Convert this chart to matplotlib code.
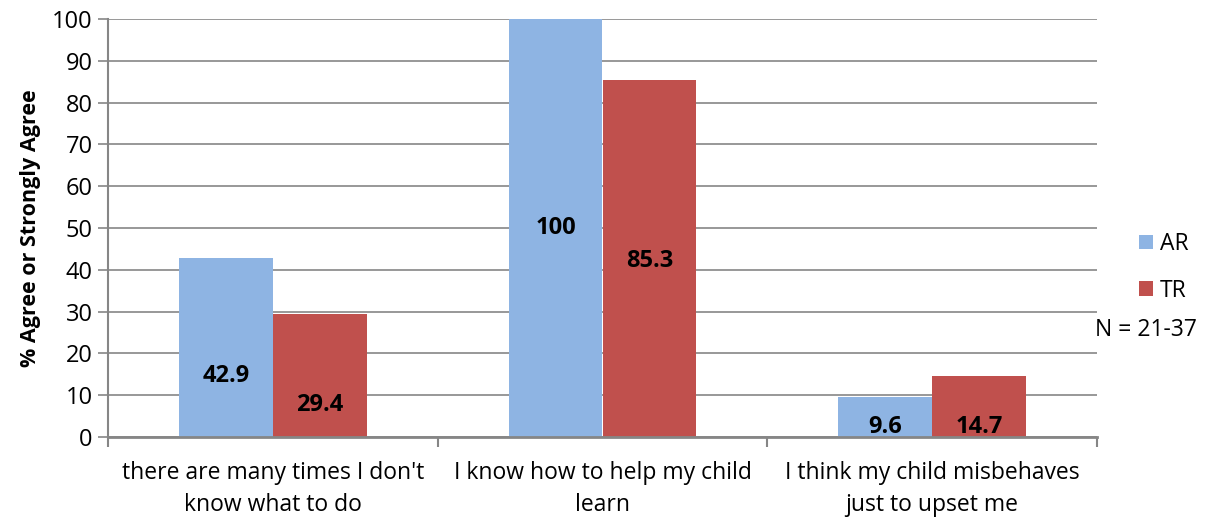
import numpy as np
import matplotlib.pyplot as plt

# Data
categories = ["there are many times I don't\nknow what to do",
              "I know how to help my child\nlearn",
              "I think my child misbehaves\njust to upset me"]
ar_values = [42.9, 100, 9.6]
tr_values = [29.4, 85.3, 14.7]
series_names = ["AR", "TR"]
note = "N = 21-37"

# label heights as placed in the original chart
ar_label_y = [14.6, 50, 2.4]
tr_label_y = [7.7, 42, 2.4]

plt.rcParams['font.family'] = ['Open Sans', 'DejaVu Sans']

ar_color = "#8EB4E3"
tr_color = "#C0504D"
grid_color = "#868686"

fig = plt.figure(figsize=(12.06, 5.19), dpi=100)
ax = fig.add_axes([108 / 1206, 1 - 437 / 519, (1097 - 108) / 1206, (437 - 19) / 519])

x = np.arange(len(categories))
w = 0.285
ax.bar(x - w / 2, ar_values, w, color=ar_color, label=series_names[0], zorder=2)
ax.bar(x + w / 2, tr_values, w, color=tr_color, label=series_names[1], zorder=2)

for i in range(len(categories)):
    ax.text(x[i] - w / 2, ar_label_y[i], f"{ar_values[i]:g}",
            ha='center', va='center', fontsize=17, fontweight='bold', zorder=3)
    ax.text(x[i] + w / 2, tr_label_y[i], f"{tr_values[i]:g}",
            ha='center', va='center', fontsize=17, fontweight='bold', zorder=3)

ax.set_xlim(-0.5, len(categories) - 0.5)
ax.set_ylim(0, 100)
ax.set_yticks(np.arange(0, 101, 10))
ax.yaxis.grid(True, color=grid_color, linewidth=1.2, zorder=0)
ax.set_axisbelow(True)

ax.set_xticks(x)
ax.set_xticklabels(categories, fontsize=16.5, linespacing=1.45)
ax.tick_params(axis='x', length=0, pad=17)
ax.set_xticks(np.arange(-0.5, len(categories), 1), minor=True)
ax.tick_params(axis='x', which='minor', length=7, width=1.5, color=grid_color)
ax.tick_params(axis='y', labelsize=17, length=7, width=1.2, color=grid_color, pad=4)

for s in ['top', 'right']:
    ax.spines[s].set_visible(False)
ax.spines['left'].set_color(grid_color)
ax.spines['bottom'].set_color(grid_color)
ax.spines['left'].set_linewidth(1.5)
ax.spines['bottom'].set_linewidth(2)

ax.set_ylabel("% Agree or Strongly Agree", fontsize=15.5, fontweight='bold', labelpad=8)

leg = ax.legend(loc='upper left', bbox_to_anchor=(1.022, 0.54), frameon=False,
                fontsize=16.5, handlelength=0.6, handleheight=0.6, handletextpad=0.3,
                labelspacing=1.0)
fig.text(1146 / 1206, 1 - 330 / 519, note, ha='center', va='center', fontsize=16.5)

fig.savefig("out.png", dpi=100)
